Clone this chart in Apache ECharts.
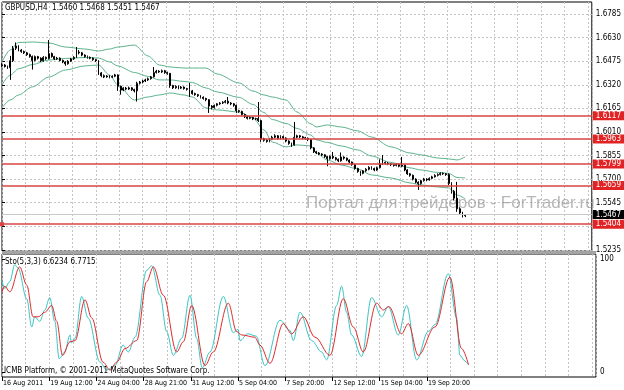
<!DOCTYPE html>
<html><head><meta charset="utf-8">
<script src="https://cdn.jsdelivr.net/npm/echarts@6/dist/echarts.min.js"></script>
<style>html,body{margin:0;padding:0;background:#fff}#c{width:624px;height:390px}</style>
</head><body><div id="c"></div>
<script>
const symbolName = 'GBPUSD,H4';
const timeLabels = ['16 Aug 2011','19 Aug 12:00','24 Aug 04:00','28 Aug 21:00','31 Aug 12:00','5 Sep 04:00','7 Sep 20:00','12 Sep 12:00','15 Sep 04:00','19 Sep 20:00'];
const timeLabelBars = [0,17,34,51,68,85,102,119,136,153];
const priceTicks = [1.5235,1.5390,1.5545,1.5700,1.5855,1.6010,1.6165,1.6320,1.6475,1.6630,1.6785];
const stoTicks = [0,100];
const levels = [1.6117,1.5963,1.5799,1.5659,1.5404];
const currentPrice = 1.5467;
const stoReadout = ['6.6234','6.7715'];
const copyright = 'ICMB Platform, \u00a9 2001-2011 MetaQuotes Software Corp.';
const watermark = 'Портал для трейдеров - ForTrader.ru';

// [open, close, low, high]
const ohlc = [
[1.6445,1.6450,1.6438,1.6462],[1.6450,1.6440,1.6433,1.6456],[1.6440,1.6432,1.6425,1.6446],[1.6432,1.6478,1.6352,1.6510],
[1.6478,1.6560,1.6470,1.6575],[1.6560,1.6575,1.6548,1.6598],[1.6575,1.6548,1.6540,1.6580],[1.6548,1.6538,1.6530,1.6555],
[1.6538,1.6530,1.6522,1.6545],[1.6530,1.6518,1.6510,1.6536],[1.6518,1.6505,1.6498,1.6525],[1.6505,1.6480,1.6420,1.6512],
[1.6480,1.6505,1.6474,1.6512],[1.6505,1.6495,1.6486,1.6510],[1.6495,1.6478,1.6470,1.6500],[1.6478,1.6500,1.6472,1.6508],
[1.6500,1.6492,1.6484,1.6506],[1.6492,1.6525,1.6486,1.6614],[1.6525,1.6505,1.6498,1.6532],[1.6505,1.6490,1.6482,1.6510],
[1.6490,1.6495,1.6484,1.6503],[1.6495,1.6480,1.6474,1.6500],[1.6480,1.6470,1.6462,1.6486],[1.6470,1.6458,1.6445,1.6475],
[1.6458,1.6475,1.6452,1.6482],[1.6475,1.6490,1.6470,1.6496],[1.6490,1.6500,1.6484,1.6508],[1.6500,1.6535,1.6496,1.6568],
[1.6535,1.6530,1.6520,1.6548],[1.6530,1.6515,1.6508,1.6536],[1.6515,1.6505,1.6498,1.6520],[1.6505,1.6500,1.6492,1.6512],
[1.6500,1.6495,1.6488,1.6506],[1.6495,1.6485,1.6478,1.6500],[1.6485,1.6478,1.6470,1.6490],[1.6478,1.6398,1.6385,1.6482],
[1.6398,1.6380,1.6370,1.6404],[1.6380,1.6372,1.6364,1.6388],[1.6372,1.6378,1.6366,1.6384],[1.6378,1.6370,1.6362,1.6383],
[1.6370,1.6376,1.6364,1.6382],[1.6376,1.6385,1.6370,1.6392],[1.6385,1.6310,1.6280,1.6388],[1.6310,1.6285,1.6255,1.6315],
[1.6285,1.6298,1.6278,1.6304],[1.6298,1.6292,1.6284,1.6306],[1.6292,1.6300,1.6286,1.6308],[1.6300,1.6288,1.6280,1.6304],
[1.6288,1.6280,1.6270,1.6294],[1.6280,1.6330,1.6210,1.6340],[1.6330,1.6338,1.6322,1.6345],[1.6338,1.6345,1.6330,1.6352],
[1.6345,1.6352,1.6338,1.6360],[1.6352,1.6360,1.6345,1.6368],[1.6360,1.6372,1.6354,1.6378],[1.6372,1.6400,1.6368,1.6437],
[1.6400,1.6410,1.6394,1.6418],[1.6410,1.6405,1.6398,1.6416],[1.6405,1.6412,1.6398,1.6420],[1.6412,1.6400,1.6392,1.6418],
[1.6400,1.6395,1.6386,1.6406],[1.6395,1.6315,1.6300,1.6398],[1.6315,1.6300,1.6292,1.6320],[1.6300,1.6310,1.6294,1.6316],
[1.6310,1.6298,1.6290,1.6315],[1.6298,1.6305,1.6292,1.6312],[1.6305,1.6295,1.6288,1.6310],[1.6295,1.6290,1.6282,1.6300],
[1.6290,1.6280,1.6240,1.6332],[1.6280,1.6262,1.6255,1.6286],[1.6262,1.6255,1.6248,1.6268],[1.6255,1.6248,1.6240,1.6260],
[1.6248,1.6238,1.6230,1.6252],[1.6238,1.6230,1.6222,1.6244],[1.6230,1.6222,1.6212,1.6235],[1.6222,1.6180,1.6135,1.6226],
[1.6180,1.6170,1.6158,1.6186],[1.6170,1.6185,1.6164,1.6190],[1.6185,1.6195,1.6178,1.6200],[1.6195,1.6200,1.6188,1.6206],
[1.6200,1.6205,1.6194,1.6212],[1.6205,1.6212,1.6198,1.6220],[1.6212,1.6200,1.6192,1.6240],[1.6200,1.6195,1.6186,1.6206],
[1.6195,1.6185,1.6176,1.6200],[1.6185,1.6150,1.6135,1.6190],[1.6150,1.6145,1.6136,1.6156],[1.6145,1.6125,1.6118,1.6150],
[1.6125,1.6110,1.6102,1.6130],[1.6110,1.6100,1.6092,1.6116],[1.6100,1.6105,1.6094,1.6112],[1.6105,1.6095,1.6088,1.6110],
[1.6095,1.6098,1.6088,1.6104],[1.6098,1.6085,1.6076,1.6207],[1.6085,1.5965,1.5945,1.6090],[1.5965,1.5955,1.5946,1.5972],
[1.5955,1.5948,1.5940,1.5962],[1.5948,1.5962,1.5942,1.5968],[1.5962,1.5975,1.5956,1.5985],[1.5975,1.5985,1.5968,1.5995],
[1.5985,1.5968,1.5960,1.5990],[1.5968,1.5980,1.5962,1.5988],[1.5980,1.5970,1.5962,1.5986],[1.5970,1.5950,1.5942,1.5975],
[1.5950,1.5935,1.5926,1.5955],[1.5935,1.5925,1.5912,1.5940],[1.5925,1.5975,1.5920,1.6076],[1.5975,1.5985,1.5968,1.5992],
[1.5985,1.5978,1.5970,1.5990],[1.5978,1.5972,1.5964,1.5984],[1.5972,1.5968,1.5960,1.5978],[1.5968,1.5960,1.5950,1.5974],
[1.5960,1.5905,1.5896,1.5964],[1.5905,1.5880,1.5872,1.5910],[1.5880,1.5872,1.5864,1.5886],[1.5872,1.5865,1.5858,1.5878],
[1.5865,1.5860,1.5852,1.5870],[1.5860,1.5848,1.5840,1.5864],[1.5848,1.5835,1.5785,1.5852],[1.5835,1.5850,1.5828,1.5856],
[1.5850,1.5840,1.5832,1.5878],[1.5840,1.5830,1.5822,1.5846],[1.5830,1.5820,1.5812,1.5836],[1.5820,1.5845,1.5815,1.5875],
[1.5845,1.5838,1.5828,1.5850],[1.5838,1.5825,1.5818,1.5842],[1.5825,1.5812,1.5805,1.5830],[1.5812,1.5795,1.5788,1.5816],
[1.5795,1.5770,1.5762,1.5800],[1.5770,1.5750,1.5742,1.5775],[1.5750,1.5738,1.5722,1.5755],[1.5738,1.5755,1.5732,1.5760],
[1.5755,1.5765,1.5748,1.5772],[1.5765,1.5778,1.5758,1.5785],[1.5778,1.5770,1.5762,1.5784],[1.5770,1.5760,1.5752,1.5776],
[1.5760,1.5775,1.5755,1.5782],[1.5775,1.5800,1.5770,1.5830],[1.5800,1.5810,1.5794,1.5859],[1.5810,1.5805,1.5796,1.5816],
[1.5805,1.5800,1.5792,1.5812],[1.5800,1.5795,1.5786,1.5806],[1.5795,1.5790,1.5782,1.5800],[1.5790,1.5798,1.5784,1.5804],
[1.5798,1.5785,1.5778,1.5802],[1.5785,1.5792,1.5778,1.5846],[1.5792,1.5760,1.5752,1.5796],[1.5760,1.5735,1.5728,1.5765],
[1.5735,1.5725,1.5716,1.5740],[1.5725,1.5700,1.5692,1.5730],[1.5700,1.5680,1.5672,1.5706],[1.5680,1.5670,1.5629,1.5686],
[1.5670,1.5690,1.5664,1.5696],[1.5690,1.5700,1.5684,1.5708],[1.5700,1.5695,1.5686,1.5706],[1.5695,1.5705,1.5690,1.5712],
[1.5705,1.5715,1.5700,1.5722],[1.5715,1.5725,1.5710,1.5732],[1.5725,1.5730,1.5718,1.5738],[1.5730,1.5738,1.5724,1.5745],
[1.5738,1.5735,1.5728,1.5744],[1.5735,1.5730,1.5722,1.5740],[1.5730,1.5672,1.5660,1.5738],[1.5672,1.5620,1.5605,1.5680],
[1.5620,1.5575,1.5560,1.5628],[1.5575,1.5505,1.5485,1.5682],[1.5505,1.5478,1.5465,1.5515],[1.5478,1.5460,1.5448,1.5485],
[1.5460,1.5467,1.5451,1.5468]
];

// Bollinger bands: [bar, price]
const bbUpper = [[0,1.6470],[3,1.6549],[6,1.6598],[11,1.6601],[17,1.6595],[23,1.6568],[30,1.6555],[35,1.6542],[39,1.6555],[42,1.6568],[48,1.6581],[53,1.6509],[57,1.6450],[61,1.6437],[66,1.6430],[69,1.6430],[74,1.6430],[78,1.6391],[86,1.6332],[91,1.6279],[95,1.6253],[98,1.6240],[103,1.6220],[107,1.6141],[112,1.6063],[114,1.6043],[118,1.6056],[123,1.6043],[129,1.6017],[134,1.5977],[141,1.5912],[148,1.5872],[152,1.5859],[158,1.5839],[162,1.5833],[165,1.5826],[168,1.5846]];
const bbMiddle = [[0,1.6319],[3,1.6384],[6,1.6425],[11,1.6453],[17,1.6483],[23,1.6493],[30,1.6499],[35,1.6496],[39,1.6470],[42,1.6444],[48,1.6401],[53,1.6375],[57,1.6352],[61,1.6352],[66,1.6342],[69,1.6335],[74,1.6299],[78,1.6273],[86,1.6237],[91,1.6191],[95,1.6138],[98,1.6092],[103,1.6066],[107,1.6033],[112,1.5990],[114,1.5958],[118,1.5941],[123,1.5918],[129,1.5892],[134,1.5852],[141,1.5810],[148,1.5774],[152,1.5760],[158,1.5744],[162,1.5738],[165,1.5711],[168,1.5708]];
const bbLower = [[0,1.6168],[3,1.6220],[6,1.6253],[11,1.6306],[17,1.6371],[23,1.6417],[30,1.6444],[35,1.6450],[39,1.6384],[42,1.6319],[48,1.6220],[53,1.6240],[57,1.6253],[61,1.6266],[66,1.6253],[69,1.6240],[74,1.6168],[78,1.6155],[86,1.6141],[91,1.6102],[95,1.6023],[98,1.5944],[103,1.5912],[107,1.5925],[112,1.5918],[114,1.5872],[118,1.5826],[123,1.5793],[129,1.5767],[134,1.5728],[141,1.5708],[148,1.5675],[152,1.5662],[158,1.5649],[162,1.5642],[165,1.5596],[168,1.5570]];

// Stochastic (5,3,3): [bar, value]
const stoMain = [[0,81],[1,74],[2.8,80],[4.6,95],[5.8,92],[8.9,65],[10.7,40],[11.8,49],[13.6,45],[15.4,55],[17.2,66],[19,45],[20.6,12],[22.6,18],[24.5,33],[25,26],[26.3,30],[28.7,67],[31,48],[35.3,9],[37.7,2],[40.7,6],[43.6,24],[45.5,18],[47.9,31],[52.1,90],[53.9,94],[56.9,68],[59.3,36],[61.7,15],[64.7,30],[67.7,68],[70.1,30],[72.1,4],[74.9,18],[79.7,67],[83.3,35],[85,38],[85.7,28],[88.5,34],[91.5,32],[94.7,6],[100.1,46],[103.7,37],[104.9,28],[107.3,53],[111.5,28],[115.1,18],[116.9,11],[120.5,59],[122.3,76],[124.1,53],[125.9,33],[129.5,14],[133.1,66],[136.7,49],[139.1,58],[142.7,33],[145.7,59],[149.3,11],[153.5,36],[155.9,42],[160.7,87],[163.7,48],[164.9,15],[166.7,10],[168,6.6]];
const stoSignal = [[0,71],[1,76],[2.8,71],[6.4,93],[8.9,77],[11.2,49],[13,49],[15.4,53],[17.9,59],[19.7,45],[21.8,15],[24.5,27],[26.3,28],[29.9,64],[32.3,48],[36.4,9],[38.9,2],[41.3,9],[44.3,21],[48.5,28],[52.1,80],[54.5,93],[58.1,68],[62.9,18],[65.3,27],[68.3,59],[73.1,6],[76.1,18],[81.5,61],[84.5,36],[86.3,33],[91,31],[92.9,24],[96.5,8],[101.3,43],[104.3,34],[108.5,49],[112.7,31],[118.1,15],[122.9,65],[126.5,40],[130.1,18],[134.9,61],[137.3,55],[139.3,58],[143.9,34],[146.3,43],[149.9,15],[155.9,40],[161.3,84],[165.5,21],[168,6.8]];

const FONT = '"Liberation Sans Narrow","DejaVu Sans Condensed","Liberation Sans",sans-serif';
const last = ohlc[ohlc.length - 1];
const titleText = symbolName + '  ' + [last[0], last[3], last[2], last[1]].map(v => v.toFixed(4)).join(' ');
const labelMap = {};
timeLabelBars.forEach((b, k) => labelMap[b] = timeLabels[k]);

const XMAX = 213.9;
const gridDash = {color: '#c4c4c4', type: [2, 2], width: 1};

const chart = echarts.init(document.getElementById('c'), null, {renderer: 'canvas'});
chart.setOption({
  animation: false,
  backgroundColor: '#fff',
  grid: [
    {left: 2, top: 2, width: 594, height: 249, show: true, borderColor: '#000', borderWidth: 1, backgroundColor: 'transparent'},
    {left: 2, top: 254, width: 594, height: 123, show: true, borderColor: '#000', borderWidth: 1, backgroundColor: 'transparent'}
  ],
  xAxis: [
    {type: 'value', gridIndex: 0, min: 0, max: XMAX, interval: 8.5, axisLine: {show: false}, axisTick: {show: false}, axisLabel: {show: false}, splitLine: {show: true, lineStyle: gridDash}},
    {type: 'value', gridIndex: 1, min: 0, max: XMAX, interval: 8.5, axisLine: {show: false}, axisTick: {show: false}, axisLabel: {show: false}, splitLine: {show: true, lineStyle: gridDash}},
    {type: 'value', gridIndex: 1, min: 0, max: XMAX, position: 'bottom', axisLine: {show: false},
      axisTick: {show: true, length: 4, customValues: timeLabelBars, lineStyle: {color: '#000'}},
      axisLabel: {show: true, customValues: timeLabelBars, showMinLabel: true, showMaxLabel: true, hideOverlap: false,
        align: 'left', margin: 3, fontSize: 7, fontFamily: FONT, color: '#000', padding: [0, 0, 0, 1],
        formatter: v => labelMap[Math.round(v)] || ''},
      splitLine: {show: false}}
  ],
  yAxis: [
    {type: 'value', gridIndex: 0, position: 'right', min: 1.52279, max: 1.68639,
      axisLine: {show: false},
      axisTick: {show: true, length: 3, inside: false, customValues: priceTicks, lineStyle: {color: '#000'}},
      axisLabel: {show: true, customValues: priceTicks, showMinLabel: true, showMaxLabel: true, margin: 4, fontSize: 8, fontFamily: FONT, color: '#000', formatter: v => v.toFixed(4)},
      splitLine: {show: true, lineStyle: gridDash}},
    {type: 'value', gridIndex: 1, position: 'right', min: -4.1, max: 104.4,
      axisLine: {show: false},
      axisTick: {show: true, length: 3, customValues: stoTicks, lineStyle: {color: '#000'}},
      axisLabel: {show: true, customValues: stoTicks, showMinLabel: true, showMaxLabel: true, margin: 4, fontSize: 8, fontFamily: FONT, color: '#000', formatter: v => String(Math.round(v))},
      splitLine: {show: false}}
  ],
  series: [
    {type: 'line', xAxisIndex: 0, yAxisIndex: 0, data: bbUpper, showSymbol: false, smooth: 0.3, smoothMonotone: 'x', lineStyle: {color: '#5cb38c', width: 1}, z: 2, silent: true},
    {type: 'line', xAxisIndex: 0, yAxisIndex: 0, data: bbMiddle, showSymbol: false, smooth: 0.3, smoothMonotone: 'x', lineStyle: {color: '#5cb38c', width: 1}, z: 2, silent: true},
    {type: 'line', xAxisIndex: 0, yAxisIndex: 0, data: bbLower, showSymbol: false, smooth: 0.3, smoothMonotone: 'x', lineStyle: {color: '#5cb38c', width: 1}, z: 2, silent: true},
    {type: 'candlestick', xAxisIndex: 0, yAxisIndex: 0, z: 4, silent: true,
      data: ohlc.map((r, i) => [i, r[0], r[1], r[2], r[3]]),
      barWidth: 1.4,
      itemStyle: {color: '#ffffff', color0: '#000000', borderColor: '#000000', borderColor0: '#000000', borderWidth: 1},
      markLine: {
        silent: true, symbol: 'none', animation: false, precision: 4,
        lineStyle: {color: '#d84444', width: 1.5, type: 'solid'},
        label: {show: true, position: 'end', distance: 1, formatter: p => Number(p.value).toFixed(4), color: '#fff', backgroundColor: '#e12323', padding: [1, 4, 0, 3], fontSize: 8, fontFamily: FONT},
        data: [
          {yAxis: currentPrice, lineStyle: {color: '#c8c8c8', width: 1}, label: {backgroundColor: '#000'}},
          ...levels.map(v => v === 1.5404 ? {yAxis: v, symbol: ['emptyRect', 'emptyRect'], symbolSize: 4} : {yAxis: v})
        ]
      }
    },
    {type: 'line', xAxisIndex: 1, yAxisIndex: 1, data: stoMain, showSymbol: false, smooth: 0.35, smoothMonotone: 'x', lineStyle: {color: '#3cc4c4', width: 1}, z: 3, silent: true},
    {type: 'line', xAxisIndex: 1, yAxisIndex: 1, data: stoSignal, showSymbol: false, smooth: 0.35, smoothMonotone: 'x', lineStyle: {color: '#e02a2a', width: 1}, z: 4, silent: true}
  ],
  graphic: [
    {type: 'text', left: 306, top: 195, z: 1, silent: true, style: {text: watermark, font: '17px "Liberation Sans", sans-serif', fill: 'rgba(135,135,135,0.6)'}},
    {type: 'rect', z: 20, silent: true, shape: {x: 2, y: 251, width: 594, height: 3}, style: {fill: '#a3a3a3'}},
    {type: 'text', left: 5, top: 4, z: 20, silent: true, style: {text: titleText, font: '8px ' + FONT, fill: '#000'}},
    {type: 'text', left: 5, top: 258, z: 20, silent: true, style: {text: 'Sto(5,3,3) ' + stoReadout.join(' '), font: '8px ' + FONT, fill: '#000'}},
    {type: 'text', left: 4, top: 367, z: 20, silent: true, style: {text: copyright, font: '8px ' + FONT, fill: '#000'}}
  ]
});
</script></body></html>
